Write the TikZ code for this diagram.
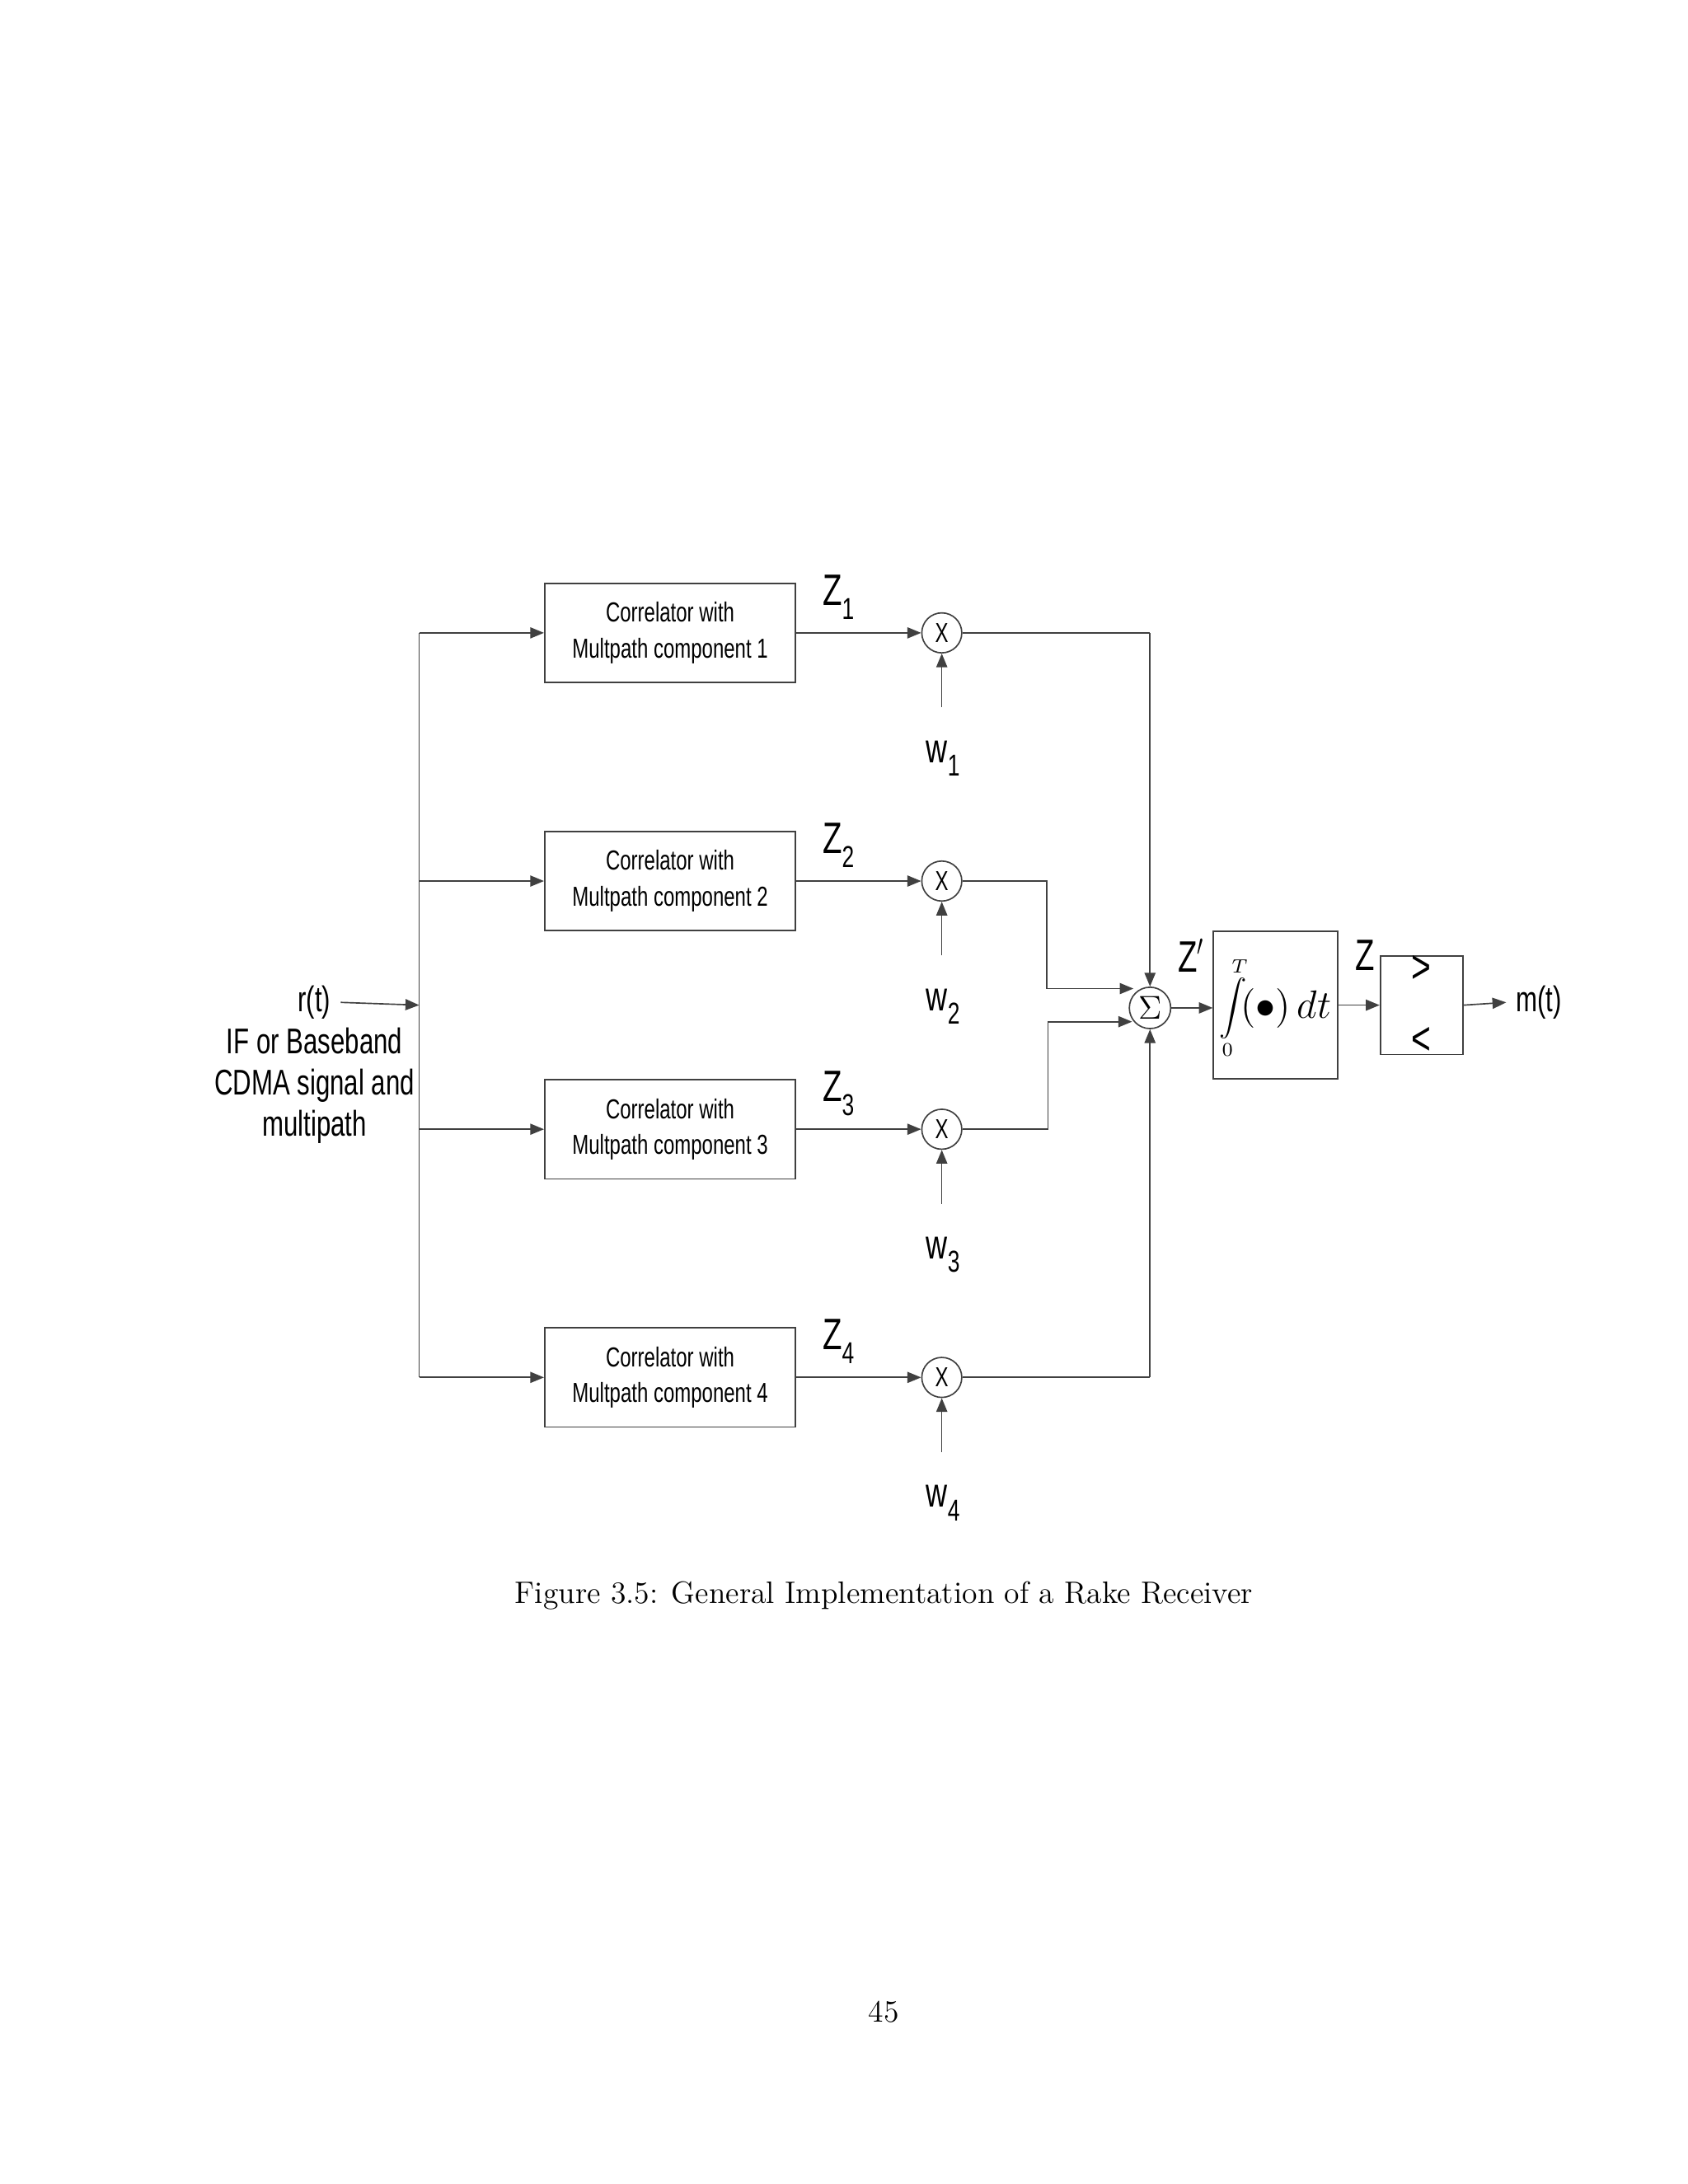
\documentclass[tikz,border=0pt]{standalone}
\usepackage{fontspec}
\newfontfamily\arial{Liberation Sans}
\usetikzlibrary{arrows.meta}
\newcommand{\nar}[1]{\scalebox{0.72}[1]{#1}}
\begin{document}
\begin{tikzpicture}[x=0.017639cm,y=-0.017639cm,
  line width=0.5pt, draw=black!75,
  arr/.style={-{Triangle[length=5pt,width=4pt]}, draw=black!75},
  corr/.style={draw=black!75, minimum width=182*0.017639cm, minimum height=72*0.017639cm, align=center, font=\arial\fontsize{10}{13}\selectfont, inner sep=0pt},
  mult/.style={circle, draw=black!75, minimum size=29*0.017639cm, inner sep=0pt, font=\arial\fontsize{10}{12}\selectfont},
  lab/.style={font=\arial\fontsize{16}{18}\selectfont},
  wlab/.style={font=\arial\fontsize{15}{18}\selectfont}]
\useasboundingbox (0,0) rectangle (1224,1584);
% input
\node[font=\arial\fontsize{13}{16}\selectfont] (rt) at (228,727) {\nar{r(t)}};
\node[font=\arial\fontsize{13}{16}\selectfont, align=center, anchor=north] (rtx) at (228,738) {\nar{IF or Baseband}\\[-1pt]\nar{CDMA signal and}\\[-1pt]\nar{multipath}};
\coordinate (bus) at (304,729);
\coordinate (bt) at (304,459);
\coordinate (bb) at (304,999);
\draw[arr] (rt.east) -- (bus);
\draw (bt) -- (bb);
\foreach \i/\y in {1/459,2/639,3/819,4/999}{
  \node[corr] (c\i) at (486,\y) {\nar{Correlator with}\\\nar{Multpath component \i}};
  \node[mult] (m\i) at (683,\y) {\nar{X}};
  \coordinate (b\i) at (304,\y);
  \draw[arr] (b\i) -- (c\i.west);
  \draw[arr] (c\i.east) -- (m\i.west);
  \node[lab] (z\i) at (608,\y-26) {\nar{Z\raisebox{-5pt}{\fontsize{11}{12}\selectfont\i}}};
  \coordinate (wi\i) at (683,\y+54);
  \draw[arr] (wi\i) -- (m\i.south);
  \node[wlab] (w\i) at (684,\y+91) {\nar{w\raisebox{-5pt}{\fontsize{11}{12}\selectfont\i}}};
}
% sum
\node[mult, minimum size=30*0.017639cm, font=\fontsize{13}{14}\selectfont] (s) at (834,731) {$\Sigma$};
\coordinate (k1) at (834,459);
\coordinate (k4) at (834,999);
\coordinate (k2a) at (759,639);
\coordinate (k2b) at (759,717);
\coordinate (k3a) at (760,819);
\coordinate (k3b) at (760,741);
\coordinate (e2) at (822,717);
\coordinate (e3) at (821,741);
\draw (m1.east) -- (k1);
\draw[arr] (k1) -- (s.north);
\draw (m4.east) -- (k4);
\draw[arr] (k4) -- (s.south);
\draw (m2.east) -- (k2a) -- (k2b);
\draw[arr] (k2b) -- (e2);
\draw (m3.east) -- (k3a) -- (k3b);
\draw[arr] (k3b) -- (e3);
% integrator
\node[draw=black!75, minimum width=90*0.017639cm, minimum height=107*0.017639cm, inner sep=0pt] (int) at (925,729) {};
\node[inner sep=0pt] (intx) at (925,731) {\fontsize{14}{16}\selectfont$\displaystyle\int\limits_{\scriptscriptstyle 0}^{\scriptscriptstyle T}\!(\bullet)\,dt$};
\draw[arr] (s.east) -- (int.west |- s.east);
\node[lab] (zp) at (864,693) {\nar{Z$'$}};
% comparator
\node[draw=black!75, minimum width=60*0.017639cm, minimum height=60*0.017639cm, inner sep=0pt, align=center, font=\arial\fontsize{17}{26}\selectfont] (cmp) at (1031,729) {\nar{>}\\\nar{<}};
\draw[arr] (int.east) -- (cmp.west);
\node[lab] (zz) at (990,693) {\nar{Z}};
\node[font=\arial\fontsize{13}{16}\selectfont] (mt) at (1116,727) {\nar{m(t)}};
\draw[arr] (cmp.east) -- (mt.west);
% caption
\node[font=\fontsize{11.3}{14}\selectfont] (cap) at (641,1157) {Figure 3.5: General Implementation of a Rake Receiver};
\node[font=\fontsize{11.3}{14}\selectfont] (pg) at (641,1459) {45};
\end{tikzpicture}
\end{document}
